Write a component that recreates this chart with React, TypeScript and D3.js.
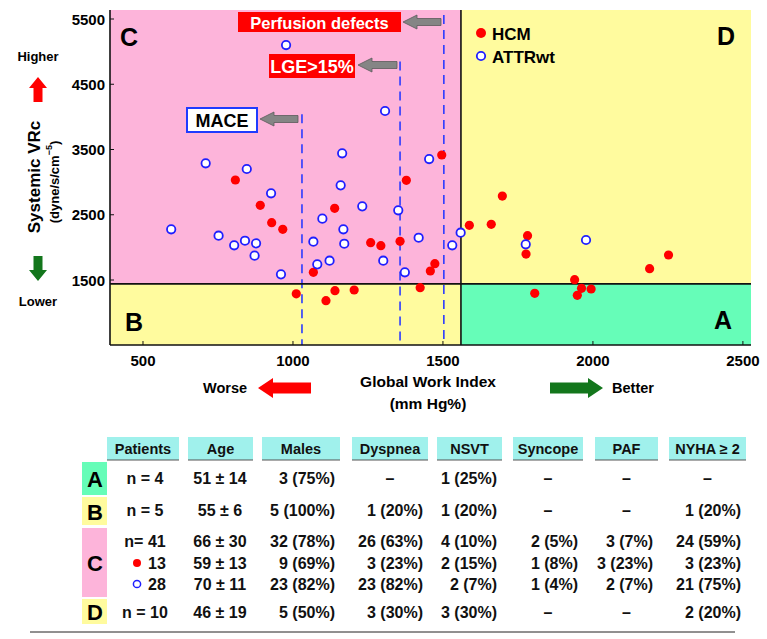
import React from 'react';
import * as d3 from 'd3';

// ---------- data ----------
const hcmGWI = [808, 891, 929, 966, 1496, 1378, 1139, 1259, 1293, 1357, 1068, 1473, 1458,
  1011, 1110, 1140, 1204, 1424,
  1588, 1661, 1698, 1782, 1777, 2189, 2252, 1939,
  1806, 1962, 1948, 1994];
const hcmSVR = [3033, 2645, 2378, 2277, 3416, 3028, 2599, 2072, 2026, 2093, 1618, 1750, 1638,
  1288, 1183, 1336, 1347, 1382,
  2338, 2354, 2787, 2179, 1898, 1673, 1883, 1505,
  1296, 1372, 1266, 1362];
const attrGWI = [709, 846, 927, 594, 752, 804, 840, 877, 872, 960, 1164, 1159, 1231, 1098, 1168,
  1068, 1171, 1081, 1122, 1301, 1351, 1419, 1373, 1454, 1531, 1559, 1776, 1977, 977, 1307];
const attrSVR = [3289, 3201, 2829, 2277, 2179, 2032, 2102, 2062, 1873, 1587, 3442, 2951, 2629, 2440, 2277,
  2087, 2056, 1740, 1796, 1796, 2568, 2148, 1618, 3354, 2032, 2225, 2047, 2113, 5101, 4090];

const xTicks = [500, 1000, 1500, 2000, 2500];
const yTicks = [1500, 2500, 3500, 4500, 5500];
const xSplit = 1560;
const ySplit = 1440;
const thresholdNames = ['MACE', 'LGE>15%', 'Perfusion defects'];
const thresholdGWI = [1030, 1357, 1503];
const thresholdTop = [4040, 4850, 5560];

const headers = ['Patients', 'Age', 'Males', 'Dyspnea', 'NSVT', 'Syncope', 'PAF', 'NYHA ≥ 2'];
const rowPatients = ['n =  4', 'n =  5', 'n= 41', '13', '28', 'n = 10'];
const rowAge = ['51 ± 14', '55 ± 6', '66 ± 30', '59 ± 13', '70 ± 11', '46 ± 19'];
const rowMales = ['3  (75%)', '5 (100%)', '32 (78%)', '9  (69%)', '23 (82%)', '5  (50%)'];
const rowDyspnea = ['–', '1  (20%)', '26 (63%)', '3 (23%)', '23 (82%)', '3 (30%)'];
const rowNSVT = ['1 (25%)', '1 (20%)', '4 (10%)', '2 (15%)', '2  (7%)', '3 (30%)'];
const rowSyncope = ['–', '–', '2 (5%)', '1 (8%)', '1 (4%)', '–'];
const rowPAF = ['–', '–', '3  (7%)', '3 (23%)', '2  (7%)', '–'];
const rowNYHA = ['–', '1 (20%)', '24 (59%)', '3 (23%)', '21 (75%)', '2 (20%)'];

// ---------- styles ----------
const FONT = 'Liberation Sans, Arial, Helvetica, sans-serif';
const PINK = '#FDB4DA';
const YELLOW = '#FFFB9E';
const GREEN = '#66FDB8';
const CYAN = '#A0F1EC';
const RED = '#FF0000';
const BLUE = '#1F1FFF';
const DGREEN = '#13761C';

function hArrow(x0: number, x1: number, cy: number, head: number, hh: number, sh: number, dir: 'left' | 'right') {
  if (dir === 'left') {
    return `M${x0},${cy} L${x0 + head},${cy - hh / 2} L${x0 + head},${cy - sh / 2} L${x1},${cy - sh / 2} L${x1},${cy + sh / 2} L${x0 + head},${cy + sh / 2} L${x0 + head},${cy + hh / 2} Z`;
  }
  return `M${x1},${cy} L${x1 - head},${cy - hh / 2} L${x1 - head},${cy - sh / 2} L${x0},${cy - sh / 2} L${x0},${cy + sh / 2} L${x1 - head},${cy + sh / 2} L${x1 - head},${cy + hh / 2} Z`;
}
function vArrow(cx: number, y0: number, y1: number, head: number, hw: number, sw: number, dir: 'up' | 'down') {
  if (dir === 'up') {
    return `M${cx},${y0} L${cx + hw / 2},${y0 + head} L${cx + sw / 2},${y0 + head} L${cx + sw / 2},${y1} L${cx - sw / 2},${y1} L${cx - sw / 2},${y0 + head} L${cx - hw / 2},${y0 + head} Z`;
  }
  return `M${cx},${y1} L${cx + hw / 2},${y1 - head} L${cx + sw / 2},${y1 - head} L${cx + sw / 2},${y0} L${cx - sw / 2},${y0} L${cx - sw / 2},${y1 - head} L${cx - hw / 2},${y1 - head} Z`;
}

export default function App() {
  const x = d3.scaleLinear().domain([390, 2527]).range([110, 751]);
  const y = d3.scaleLinear().domain([504, 5638]).range([345, 10]);
  const L = x.range()[0], R = x.range()[1], B = y.range()[0], T = y.range()[1];
  const xs = x(xSplit), ys = y(ySplit);

  // table geometry
  const colX0 = [107, 188, 262, 352, 437, 513, 595, 669];
  const colX1 = [179, 253, 340, 428, 502, 583, 658, 746];
  const rowY = [478, 510, 541, 563, 584, 612];
  const groupBoxes: { g: string; y0: number; y1: number; c: string }[] = [
    { g: 'A', y0: 462, y1: 495, c: GREEN },
    { g: 'B', y0: 497, y1: 525, c: YELLOW },
    { g: 'C', y0: 528, y1: 597, c: PINK },
    { g: 'D', y0: 599, y1: 624, c: YELLOW },
  ];
  const rightCols = [rowMales, rowDyspnea, rowNSVT, rowSyncope, rowPAF, rowNYHA];
  const rightColIdx = [2, 3, 4, 5, 6, 7];

  const txt = { fontFamily: FONT, fontWeight: 700 as const, whiteSpace: 'pre' as const };

  return (
    <svg width={767} height={639} style={{ position: 'absolute', left: 0, top: 0, background: '#fff' }}>
      {/* quadrants */}
      <rect x={L} y={T} width={xs - L} height={ys - T} fill={PINK} />
      <rect x={xs} y={T} width={R - xs} height={ys - T} fill={YELLOW} />
      <rect x={L} y={ys} width={xs - L} height={B - ys} fill={YELLOW} />
      <rect x={xs} y={ys} width={R - xs} height={B - ys} fill={GREEN} />

      {/* threshold dashed lines */}
      {thresholdGWI.map((g, i) => (
        <line key={'th' + i} x1={x(g)} x2={x(g)} y1={y(thresholdTop[i])} y2={B}
          stroke="#2B3BFF" strokeWidth={1.6} strokeDasharray="9,6" />
      ))}

      {/* split lines */}
      <line x1={xs} x2={xs} y1={T} y2={B} stroke="#111" strokeWidth={1.6} />
      <line x1={L} x2={R} y1={ys} y2={ys} stroke="#111" strokeWidth={1.6} />

      {/* axes */}
      <line x1={L} x2={L} y1={T} y2={B} stroke="#111" strokeWidth={1.6} />
      <line x1={L} x2={R} y1={B} y2={B} stroke="#111" strokeWidth={1.6} />
      {xTicks.map(t => (
        <g key={'xt' + t}>
          <line x1={x(t)} x2={x(t)} y1={B} y2={B - 4} stroke="#111" strokeWidth={1} />
          <text x={x(t)} y={360} textAnchor="middle" dominantBaseline="central" fontSize={15} {...txt}>{t}</text>
        </g>
      ))}
      {yTicks.map(t => (
        <g key={'yt' + t}>
          <line x1={L} x2={L + 4} y1={y(t)} y2={y(t)} stroke="#111" strokeWidth={1} />
          <text x={105} y={y(t)} textAnchor="end" dominantBaseline="central" fontSize={15} {...txt}>{t}</text>
        </g>
      ))}

      {/* quadrant letters */}
      <text x={129} y={37} textAnchor="middle" dominantBaseline="central" fontSize={25} {...txt}>C</text>
      <text x={726} y={36} textAnchor="middle" dominantBaseline="central" fontSize={25} {...txt}>D</text>
      <text x={134} y={322} textAnchor="middle" dominantBaseline="central" fontSize={25} {...txt}>B</text>
      <text x={723} y={320} textAnchor="middle" dominantBaseline="central" fontSize={25} {...txt}>A</text>

      {/* annotation labels */}
      <rect x={238} y={12} width={163} height={20} fill={RED} />
      <text x={319.5} y={22.5} textAnchor="middle" dominantBaseline="central" fontSize={16.5} fill="#fff" {...txt}>{thresholdNames[2]}</text>
      <path d={hArrow(403, 441, 22, 14, 14, 7, 'left')} fill="#858585" stroke="#5a5a5a" strokeWidth={0.8} />

      <rect x={269} y={54} width={86} height={24} fill={RED} />
      <text x={312} y={66.5} textAnchor="middle" dominantBaseline="central" fontSize={18} fill="#fff" {...txt}>{thresholdNames[1]}</text>
      <path d={hArrow(358, 397, 65, 14, 14, 7, 'left')} fill="#858585" stroke="#5a5a5a" strokeWidth={0.8} />

      <rect x={187} y={108} width={70} height={24} fill="#fff" stroke="#1F3BFF" strokeWidth={2} />
      <text x={222} y={120.5} textAnchor="middle" dominantBaseline="central" fontSize={18} fill="#000" {...txt}>{thresholdNames[0]}</text>
      <path d={hArrow(260, 298, 119, 14, 14, 7, 'left')} fill="#858585" stroke="#5a5a5a" strokeWidth={0.8} />

      {/* points */}
      {hcmGWI.map((g, i) => (
        <circle key={'h' + i} cx={x(g)} cy={y(hcmSVR[i])} r={4.6} fill={RED} />
      ))}
      {attrGWI.map((g, i) => (
        <circle key={'a' + i} cx={x(g)} cy={y(attrSVR[i])} r={4.2} fill="#fff" stroke={BLUE} strokeWidth={1.8} />
      ))}

      {/* legend */}
      <circle cx={481} cy={33} r={5} fill={RED} />
      <text x={492} y={34} dominantBaseline="central" fontSize={17} {...txt}>HCM</text>
      <circle cx={481} cy={56} r={4.2} fill="#fff" stroke={BLUE} strokeWidth={1.8} />
      <text x={492} y={57} dominantBaseline="central" fontSize={17} {...txt}>ATTRwt</text>

      {/* y-axis labels */}
      <text x={38} y={56} textAnchor="middle" dominantBaseline="central" fontSize={13} {...txt}>Higher</text>
      <path d={vArrow(38, 77, 102, 11, 18, 9, 'up')} fill={RED} />
      <text transform={`translate(34,177) rotate(-90)`} textAnchor="middle" dominantBaseline="central" fontSize={17} {...txt}>Systemic VRc</text>
      <text transform={`translate(54,182) rotate(-90)`} textAnchor="middle" dominantBaseline="central" fontSize={13} {...txt}>
        (dyne/s/cm<tspan dy={-5} fontSize={9}>−5</tspan><tspan dy={5}>)</tspan>
      </text>
      <path d={vArrow(38, 256, 281, 11, 18, 9, 'down')} fill={DGREEN} />
      <text x={38} y={301} textAnchor="middle" dominantBaseline="central" fontSize={13} {...txt}>Lower</text>

      {/* x-axis labels */}
      <text x={428} y={381} textAnchor="middle" dominantBaseline="central" fontSize={15.5} {...txt}>Global Work Index</text>
      <text x={428} y={403} textAnchor="middle" dominantBaseline="central" fontSize={15.5} {...txt}>(mm Hg%)</text>
      <text x={225} y={388} textAnchor="middle" dominantBaseline="central" fontSize={14.5} {...txt}>Worse</text>
      <path d={hArrow(258, 311, 388, 15, 20, 11, 'left')} fill={RED} />
      <path d={hArrow(550, 603, 388, 15, 20, 11, 'right')} fill={DGREEN} />
      <text x={633} y={388} textAnchor="middle" dominantBaseline="central" fontSize={14.5} {...txt}>Better</text>

      {/* table header */}
      {headers.map((h, i) => (
        <g key={'hd' + i}>
          <rect x={colX0[i]} y={437} width={colX1[i] - colX0[i]} height={23} fill={CYAN} />
          <line x1={colX0[i]} x2={colX1[i]} y1={460} y2={460} stroke="#555" strokeWidth={1.2} />
          <text x={(colX0[i] + colX1[i]) / 2} y={449} textAnchor="middle" dominantBaseline="central" fontSize={14.5} fill="#111" {...txt}>{h}</text>
        </g>
      ))}

      {/* group label cells */}
      {groupBoxes.map(b => (
        <g key={'gb' + b.g}>
          <rect x={82} y={b.y0} width={25} height={b.y1 - b.y0} fill={b.c} />
          <text x={95} y={(b.y0 + b.y1) / 2 + 1} textAnchor="middle" dominantBaseline="central" fontSize={22} fill="#000" {...txt}>{b.g}</text>
        </g>
      ))}

      {/* table rows */}
      {rowPatients.map((p, i) => {
        const cy = rowY[i];
        const sub = i === 3 || i === 4;
        return (
          <g key={'row' + i}>
            {sub ? (
              <>
                {i === 3
                  ? <circle cx={137} cy={cy} r={4} fill={RED} />
                  : <circle cx={137} cy={cy} r={3.6} fill="#fff" stroke={BLUE} strokeWidth={1.5} />}
                <text x={148} y={cy} dominantBaseline="central" fontSize={16} fill="#111" {...txt}>{p}</text>
              </>
            ) : (
              <text x={145} y={cy} textAnchor="middle" dominantBaseline="central" fontSize={16} fill="#111" {...txt}>{p}</text>
            )}
            <text x={220} y={cy} textAnchor="middle" dominantBaseline="central" fontSize={16} fill="#111" {...txt}>{rowAge[i]}</text>
            {rightCols.map((col, k) => {
              const ci = rightColIdx[k];
              const v = col[i];
              if (v === '–') {
                return <text key={'c' + k} x={(colX0[ci] + colX1[ci]) / 2} y={cy} textAnchor="middle" dominantBaseline="central" fontSize={16} fill="#111" {...txt}>–</text>;
              }
              return <text key={'c' + k} x={colX1[ci] - 5} y={cy} textAnchor="end" dominantBaseline="central" fontSize={16} fill="#111" {...txt}>{v}</text>;
            })}
          </g>
        );
      })}

      <line x1={30} x2={735} y1={632} y2={632} stroke="#222" strokeWidth={1} />
    </svg>
  );
}
